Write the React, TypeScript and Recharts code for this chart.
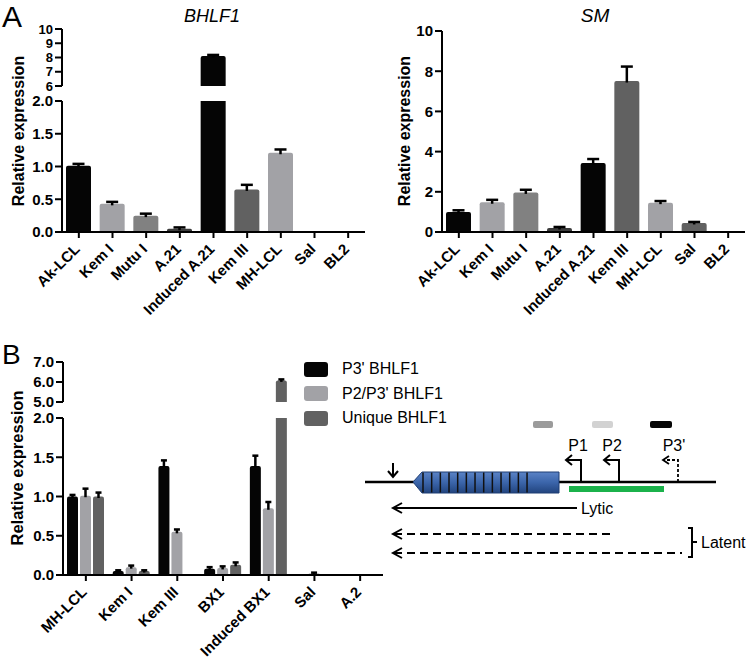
import React from 'react';
import { BarChart, Bar, XAxis, YAxis, Cell, Rectangle, Legend } from 'recharts';

// panel A categories and values (BHLF1 and SM relative expression)
const cellLinesA = ['Ak-LCL', 'Kem I', 'Mutu I', 'A.21', 'Induced A.21', 'Kem III', 'MH-LCL', 'Sal', 'BL2'];
const bhlf1Values = [1.01, 0.43, 0.25, 0.05, 8.1, 0.65, 1.21, 0, 0];
const bhlf1Errors = [0.03, 0.03, 0.03, 0.02, 0.08, 0.07, 0.05, 0, 0];
const smValues = [1.0, 1.48, 1.97, 0.2, 3.43, 7.51, 1.46, 0.45, 0];
const smErrors = [0.08, 0.12, 0.13, 0.05, 0.2, 0.72, 0.08, 0.05, 0];

// panel B categories and three transcript series
const cellLinesB = ['MH-LCL', 'Kem I', 'Kem III', 'BX1', 'Induced BX1', 'Sal', 'A.2'];
const seriesNamesB = ["P3' BHLF1", "P2/P3' BHLF1", 'Unique BHLF1'];
const p3Values = [1.0, 0.05, 1.39, 0.08, 1.39, 0, 0];
const p3Errors = [0.02, 0.01, 0.07, 0.02, 0.13, 0, 0];
const p2p3Values = [1.01, 0.1, 0.55, 0.09, 0.85, 0.02, 0];
const p2p3Errors = [0.09, 0.02, 0.03, 0.02, 0.08, 0.01, 0];
const uniqueValues = [1.0, 0.05, 0.01, 0.13, 6.08, 0, 0];
const uniqueErrors = [0.05, 0.01, 0, 0.03, 0.05, 0, 0];

// axis ticks
const bhlf1UpperTicks = [6, 7, 8, 9, 10];
const lowerTicks = [0, 0.5, 1, 1.5, 2];
const smTicks = [0, 2, 4, 6, 8, 10];
const bUpperTicks = [5, 6, 7];

const BLACK = '#050505';
const LIGHT = '#a2a2a6';
const MID = '#818181';
const DARK = '#3c3c3c';
const DARK2 = '#616161';
const coloursA = [BLACK, LIGHT, MID, DARK, BLACK, DARK2, LIGHT, DARK2, MID];

const FONT = 'Arial, "Liberation Sans", Helvetica, sans-serif';

const bhlf1Data = cellLinesA.map((name, i) => ({ name, value: bhlf1Values[i], err: bhlf1Errors[i] }));
const smData = cellLinesA.map((name, i) => ({ name, value: smValues[i], err: smErrors[i] }));
const bData = cellLinesB.map((name, i) => ({
  name,
  p3: p3Values[i],
  p3Err: p3Errors[i],
  p2p3: p2p3Values[i],
  p2p3Err: p2p3Errors[i],
  uniq: uniqueValues[i],
  uniqErr: uniqueErrors[i],
}));

// bar with an upward-only error whisker, scaled from the bar's own geometry
function barWithError(valueKey: string, errKey: string, base: number, capHalf: number) {
  return (props: any) => {
    const { x, y, width, height, fill, payload } = props;
    const v = payload[valueKey];
    const e = payload[errKey];
    if (!(v > base) || !height) return <g />;
    const h = Math.abs(height);
    const top = Math.min(y, y + height);
    const ppu = h / (v - base);
    const cx = x + width / 2;
    const errTop = top - e * ppu;
    return (
      <g>
        <Rectangle x={x} y={top} width={width} height={h} fill={fill} radius={[2, 2, 0, 0]} />
        {e > 0 && (
          <g stroke="#000" strokeWidth={2.5}>
            <line x1={cx} x2={cx} y1={top + 1.5} y2={errTop} />
            <line x1={cx - capHalf} x2={cx + capHalf} y1={errTop} y2={errTop} />
          </g>
        )}
      </g>
    );
  };
}

const AngledTick = (props: any) => {
  const { x, y, payload } = props;
  const px = x + 2;
  const py = y + 10;
  return (
    <text
      x={px}
      y={py}
      transform={`rotate(-45, ${px}, ${py})`}
      textAnchor="end"
      fontSize={15}
      fontWeight="bold"
      fontFamily={FONT}
      fill="#000"
    >
      {payload.value}
    </text>
  );
};

const axisLine = { stroke: '#000', strokeWidth: 2 };
const yTick = { fill: '#000', fontSize: 15, fontWeight: 'bold', fontFamily: FONT };
const yTickSmall = { ...yTick, fontSize: 13 };
const fmt1 = (v: number) => v.toFixed(1);

const LegendContent = ({ payload }: any) => {
  const items = [...(payload || [])].sort(
    (a: any, b: any) => seriesNamesB.indexOf(a.value) - seriesNamesB.indexOf(b.value)
  );
  return (
    <div style={{ fontFamily: FONT }}>
      {items.map((entry: any) => (
        <div key={entry.value} style={{ display: 'flex', alignItems: 'center', height: 24.5 }}>
          <div style={{ width: 24, height: 15, background: entry.color, borderRadius: 3, marginRight: 14 }} />
          <span style={{ fontSize: 16, color: '#000' }}>{entry.value}</span>
        </div>
      ))}
    </div>
  );
};

const abs = (left: number, top: number): React.CSSProperties => ({ position: 'absolute', left, top });

const Diagram = () => (
  <g fill="none" stroke="#000">
    <defs>
      <linearGradient id="geneFill" x1="0" y1="0" x2="0" y2="1">
        <stop offset="0" stopColor="#5b83c6" />
        <stop offset="0.5" stopColor="#3b65aa" />
        <stop offset="1" stopColor="#22447e" />
      </linearGradient>
    </defs>
    {/* probe positions */}
    <rect x={533} y={421} width={20} height={7} rx={2} fill="#9b9b9b" stroke="none" />
    <rect x={592} y={421} width={21} height={7} rx={2} fill="#d2d2d2" stroke="none" />
    <rect x={650} y={421} width={22} height={7} rx={2} fill={BLACK} stroke="none" />
    {/* genome line */}
    <line x1={365} x2={716} y1={482} y2={482} strokeWidth={2.5} />
    {/* gene body */}
    <path d="M413,482 L422,472 L559,472 L559,493 L422,493 Z" fill="url(#geneFill)" stroke="#1f3e75" strokeWidth={1} />
    {Array.from({ length: 13 }, (_, i) => (
      <line key={i} x1={423 + i * 8.67} x2={423 + i * 8.67} y1={472.5} y2={492.5} stroke="#111" strokeWidth={1.5} />
    ))}
    <rect x={569} y={486} width={95} height={6} fill="#1bb24b" stroke="none" />
    {/* down arrow */}
    <line x1={393} x2={393} y1={463} y2={477} strokeWidth={2} />
    <polyline points="388,471 393,477 398,471" strokeWidth={2} />
    {/* promoters */}
    <polyline points="581,482 581,460 566,460" strokeWidth={2} />
    <polyline points="572,455 566,460 572,465" strokeWidth={2} />
    <polyline points="619,482 619,460 604,460" strokeWidth={2} />
    <polyline points="610,455 604,460 610,465" strokeWidth={2} />
    <polyline points="678,482 678,460 664,460" strokeWidth={1.8} strokeDasharray="3 2" />
    <polyline points="669,456 663,460 669,464" strokeWidth={1.8} />
    {/* transcripts */}
    <line x1={393} x2={577} y1={508} y2={508} strokeWidth={2} />
    <polyline points="402,503 393,508 402,513" strokeWidth={2} />
    <line x1={394} x2={615} y1={534} y2={534} strokeWidth={2} strokeDasharray="8 5" />
    <polyline points="402,529 393,534 402,539" strokeWidth={2} />
    <line x1={394} x2={682} y1={553} y2={553} strokeWidth={2} strokeDasharray="8 5" />
    <polyline points="402,548 393,553 402,558" strokeWidth={2} />
    <path d="M688,528 L692,528 L692,557 L688,557 M692,542 L697,542" strokeWidth={2} />
    <g fill="#000" stroke="none" fontFamily={FONT} fontSize={16}>
      <text x={578} y={451} textAnchor="middle">P1</text>
      <text x={612} y={451} textAnchor="middle">P2</text>
      <text x={674} y={451} textAnchor="middle">P3'</text>
      <text x={581} y={514}>Lytic</text>
      <text x={701} y={548}>Latent</text>
    </g>
  </g>
);

export default function App() {
  return (
    <div style={{ position: 'absolute', left: 0, top: 0, width: 750, height: 667, background: '#fff', fontFamily: FONT }}>
      {/* A: BHLF1 upper segment */}
      <div style={abs(0, 0)}>
        <BarChart width={370} height={100} data={bhlf1Data} margin={{ top: 29, right: 5, bottom: 14, left: 0 }}>
          <XAxis dataKey="name" hide />
          <YAxis
            width={62}
            domain={[6, 10]}
            ticks={bhlf1UpperTicks}
            interval={0}
            allowDataOverflow
            axisLine={axisLine}
            tickLine={axisLine}
            tickSize={7}
            tickMargin={2}
            tick={yTickSmall}
          />
          <Bar dataKey="value" barSize={25} isAnimationActive={false} shape={barWithError('value', 'err', 6, 6)}>
            {bhlf1Data.map((d, i) => (
              <Cell key={d.name} fill={coloursA[i]} />
            ))}
          </Bar>
        </BarChart>
      </div>
      {/* A: BHLF1 lower segment */}
      <div style={abs(0, 0)}>
        <BarChart width={370} height={340} data={bhlf1Data} margin={{ top: 101, right: 5, bottom: 0, left: 0 }}>
          <XAxis
            dataKey="name"
            height={108}
            interval={0}
            axisLine={axisLine}
            tickLine={axisLine}
            tickSize={6}
            tick={<AngledTick />}
          />
          <YAxis
            width={62}
            domain={[0, 2]}
            ticks={lowerTicks}
            interval={0}
            allowDataOverflow
            tickFormatter={fmt1}
            axisLine={axisLine}
            tickLine={axisLine}
            tickSize={7}
            tickMargin={2}
            tick={yTick}
          />
          <Bar dataKey="value" barSize={25} isAnimationActive={false} shape={barWithError('value', 'err', 0, 6)}>
            {bhlf1Data.map((d, i) => (
              <Cell key={d.name} fill={coloursA[i]} />
            ))}
          </Bar>
        </BarChart>
      </div>
      {/* A: SM */}
      <div style={abs(375, 0)}>
        <BarChart width={375} height={340} data={smData} margin={{ top: 31, right: 5, bottom: 0, left: 0 }}>
          <XAxis
            dataKey="name"
            height={108}
            interval={0}
            axisLine={axisLine}
            tickLine={axisLine}
            tickSize={6}
            tick={<AngledTick />}
          />
          <YAxis
            width={67}
            domain={[0, 10]}
            ticks={smTicks}
            interval={0}
            axisLine={axisLine}
            tickLine={axisLine}
            tickSize={7}
            tickMargin={2}
            tick={yTick}
          />
          <Bar dataKey="value" barSize={25} isAnimationActive={false} shape={barWithError('value', 'err', 0, 6)}>
            {smData.map((d, i) => (
              <Cell key={d.name} fill={coloursA[i]} />
            ))}
          </Bar>
        </BarChart>
      </div>
      {/* B: upper segment */}
      <div style={abs(0, 340)}>
        <BarChart width={390} height={80} data={bData} barGap={2} margin={{ top: 22, right: 7, bottom: 18, left: 0 }}>
          <XAxis dataKey="name" hide />
          <YAxis
            width={63}
            domain={[5, 7]}
            ticks={bUpperTicks}
            interval={0}
            allowDataOverflow
            tickFormatter={fmt1}
            axisLine={axisLine}
            tickLine={axisLine}
            tickSize={7}
            tickMargin={2}
            tick={yTick}
          />
          <Bar dataKey="p3" fill={BLACK} barSize={11} isAnimationActive={false} shape={barWithError('p3', 'p3Err', 5, 3)} />
          <Bar dataKey="p2p3" fill={LIGHT} barSize={11} isAnimationActive={false} shape={barWithError('p2p3', 'p2p3Err', 5, 3)} />
          <Bar dataKey="uniq" fill={DARK2} barSize={11} isAnimationActive={false} shape={barWithError('uniq', 'uniqErr', 5, 3)} />
        </BarChart>
      </div>
      {/* B: lower segment */}
      <div style={abs(0, 340)}>
        <BarChart width={390} height={327} data={bData} barGap={2} margin={{ top: 78, right: 7, bottom: 0, left: 0 }}>
          <XAxis
            dataKey="name"
            height={92}
            interval={0}
            axisLine={axisLine}
            tickLine={axisLine}
            tickSize={6}
            tick={<AngledTick />}
          />
          <YAxis
            width={63}
            domain={[0, 2]}
            ticks={lowerTicks}
            interval={0}
            allowDataOverflow
            tickFormatter={fmt1}
            axisLine={axisLine}
            tickLine={axisLine}
            tickSize={7}
            tickMargin={2}
            tick={yTick}
          />
          <Legend
            layout="vertical"
            align="center"
            verticalAlign="middle"
            content={<LegendContent />}
            wrapperStyle={{ left: 304, top: 17, width: 200, height: 75 }}
          />
          <Bar dataKey="p3" name={seriesNamesB[0]} fill={BLACK} barSize={11} isAnimationActive={false} shape={barWithError('p3', 'p3Err', 0, 3)} />
          <Bar dataKey="p2p3" name={seriesNamesB[1]} fill={LIGHT} barSize={11} isAnimationActive={false} shape={barWithError('p2p3', 'p2p3Err', 0, 3)} />
          <Bar dataKey="uniq" name={seriesNamesB[2]} fill={DARK2} barSize={11} isAnimationActive={false} shape={barWithError('uniq', 'uniqErr', 0, 3)} />
        </BarChart>
      </div>
      {/* labels and schematic */}
      <svg width={750} height={667} style={{ position: 'absolute', left: 0, top: 0, pointerEvents: 'none' }}>
        <g fontFamily={FONT} fill="#000">
          <text x={2} y={27} fontSize={30}>A</text>
          <text x={2} y={364} fontSize={28}>B</text>
          <text x={212} y={22} fontSize={18} fontStyle="italic" textAnchor="middle">BHLF1</text>
          <text x={595} y={22} fontSize={19} fontStyle="italic" textAnchor="middle">SM</text>
          <text x={24} y={131} fontSize={16} fontWeight="bold" textAnchor="middle" transform="rotate(-90, 24, 131)">
            Relative expression
          </text>
          <text x={23} y={468} fontSize={16.5} fontWeight="bold" textAnchor="middle" transform="rotate(-90, 23, 468)">
            Relative expression
          </text>
          <text x={410} y={131} fontSize={16} fontWeight="bold" textAnchor="middle" transform="rotate(-90, 410, 131)">
            Relative expression
          </text>
        </g>
        <Diagram />
      </svg>
    </div>
  );
}
